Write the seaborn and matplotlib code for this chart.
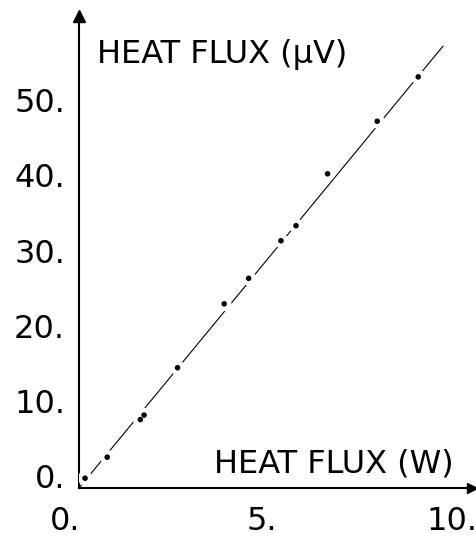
import matplotlib
matplotlib.use("Agg")
import matplotlib.pyplot as plt
import matplotlib.transforms as mtransforms
import seaborn as sns
import pandas as pd

# ---- data ----
power_w = [0.16, 0.75, 1.63, 1.73, 2.62, 3.86, 4.51, 5.37, 5.77, 6.61, 7.93, 9.02]
signal_uv = [1.3, 4.1, 9.1, 9.7, 16.0, 24.5, 27.9, 32.9, 34.9, 41.8, 48.8, 54.7]
fit_x = [0.0, 9.68]
fit_y = [0.0, 58.8]
xticks = [0, 5, 10]
xtick_labels = ["0.", "5.", "10."]
yticks = [0, 10, 20, 30, 40, 50, 60]
ytick_labels = ["0.", "10.", "20.", "30.", "40.", "50.", ""]
xlabel_text = "HEAT FLUX (W)"
ylabel_text = "HEAT FLUX (\u03bcV)"

sns.set_style("white")
plt.rcParams["font.family"] = ["DejaVu Sans"]

W, H = 477, 536
fig = plt.figure(figsize=(W / 100, H / 100), dpi=100)
ax = fig.add_axes([79 / W, 48 / H, 393 / W, 472 / H])

pts = pd.DataFrame({"x": power_w, "y": signal_uv})
fit = pd.DataFrame({"x": fit_x, "y": fit_y})

sns.lineplot(data=fit, x="x", y="y", color="black", linewidth=0.8, ax=ax, zorder=2)
sns.scatterplot(data=pts, x="x", y="y", s=110, color="white", edgecolor="none", ax=ax, zorder=3)
sns.scatterplot(data=pts, x="x", y="y", s=16, color="black", edgecolor="none", ax=ax, zorder=4)

ax.set_xlim(0, 10.45)
ax.set_ylim(0, 62.8)

for side in ("top", "right"):
    ax.spines[side].set_visible(False)
for side in ("left", "bottom"):
    ax.spines[side].set_linewidth(1.5)
    ax.spines[side].set_color("black")

# arrow heads at the axis ends
ax.plot(1, 0, marker=">", color="black", markersize=7,
        transform=ax.get_yaxis_transform(), clip_on=False)
ax.plot(0, 1, marker="^", color="black", markersize=9,
        transform=ax.get_xaxis_transform(), clip_on=False)

ax.set_xticks(xticks)
ax.set_xticklabels(xtick_labels, fontsize=23)
ax.set_yticks(yticks)
ax.set_yticklabels(ytick_labels, fontsize=23, va="baseline")
ax.tick_params(axis="x", direction="in", length=4, width=1.2, pad=13, colors="black")
ax.tick_params(axis="y", direction="in", length=5, width=1.2, pad=10, colors="black")

# small horizontal nudges of x tick labels to match the original lettering
shifts = [-14, -5, -3]
for lab, dx in zip(ax.get_xticklabels(), shifts):
    lab.set_transform(lab.get_transform() +
                      mtransforms.ScaledTranslation(dx / 100, 0, fig.dpi_scale_trans))

ax.set_xlabel("")
ax.set_ylabel("")
ax.text(0.48, 56.6, ylabel_text, fontsize=23, ha="left", va="baseline", color="black")
ax.text(9.95, 2.0, xlabel_text, fontsize=23, ha="right", va="baseline", color="black")

fig.savefig("out.png", dpi=100, facecolor="white")
